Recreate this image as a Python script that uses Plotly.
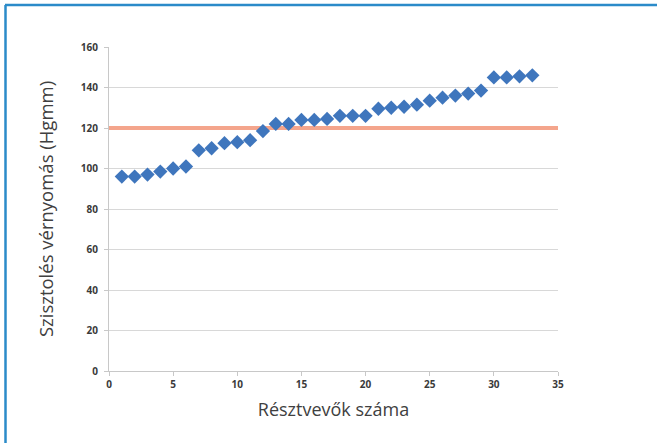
import plotly.graph_objects as go

# Participant index and measured systolic pressure (mmHg)
participants = list(range(1, 34))
systolic = [96, 96, 97, 98.5, 100, 101, 109, 110, 112.5, 113, 114, 118.5,
            122, 122, 124, 124, 124.5, 126, 126, 126, 129.5, 130, 130.5,
            131.5, 133.5, 135, 136, 137, 138.5, 145, 145, 145.5, 146]
threshold = 120
x_range = [0, 35]
y_range = [0, 160]
x_ticks = [0, 5, 10, 15, 20, 25, 30, 35]
y_ticks = [0, 20, 40, 60, 80, 100, 120, 140, 160]

W, H = 657, 443
L, R, T, B = 109, 99, 47, 72
pw, ph = W - L - R, H - T - B

fig = go.Figure()

# Reference threshold line
fig.add_trace(go.Scatter(
    x=x_range, y=[threshold, threshold], mode="lines",
    line=dict(color="#f4a58c", width=4), hoverinfo="skip", showlegend=False))

# Individual measurements
fig.add_trace(go.Scatter(
    x=participants, y=systolic, mode="markers",
    marker=dict(symbol="diamond", size=11, color="#3f76bd"),
    showlegend=False))

tick_font = dict(family="Open Sans", size=10, color="#3a3a3a", weight="bold")

fig.update_xaxes(
    range=x_range, tickvals=x_ticks, showgrid=False, zeroline=False,
    showline=True, linecolor="#c8c8c8", linewidth=1,
    ticks="outside", ticklen=4, tickcolor="#c8c8c8",
    tickfont=tick_font,
    title=dict(text="Résztvevők száma", font=dict(family="Open Sans", size=18, color="#404040"),
               standoff=13))
fig.update_yaxes(
    range=y_range, tickvals=y_ticks, showgrid=True, gridcolor="#d8d8d8", gridwidth=1,
    zeroline=False, showline=True, linecolor="#c8c8c8", linewidth=1,
    ticks="outside", ticklen=4, tickcolor="#c8c8c8", ticklabelstandoff=4,
    tickfont=tick_font,
    title=dict(text="Szisztolés vérnyomás (Hgmm)", font=dict(family="Open Sans", size=18.5, color="#404040"),
               standoff=22))

# Blue frame along the top and left edges of the panel
def px_x(p):
    return (p - L) / pw

def px_y(p):
    return (H - B - p) / ph

frame = "#2b8bc9"
fig.add_shape(type="line", xref="paper", yref="paper",
              x0=px_x(5), x1=px_x(W + 5), y0=px_y(5), y1=px_y(5),
              line=dict(color=frame, width=2.5))
fig.add_shape(type="line", xref="paper", yref="paper",
              x0=px_x(5.5), x1=px_x(5.5), y0=px_y(5), y1=px_y(H + 5),
              line=dict(color=frame, width=2.5))

fig.update_layout(
    width=W, height=H,
    margin=dict(l=L, r=R, t=T, b=B),
    paper_bgcolor="white", plot_bgcolor="white",
)

fig.write_html("out.html")
